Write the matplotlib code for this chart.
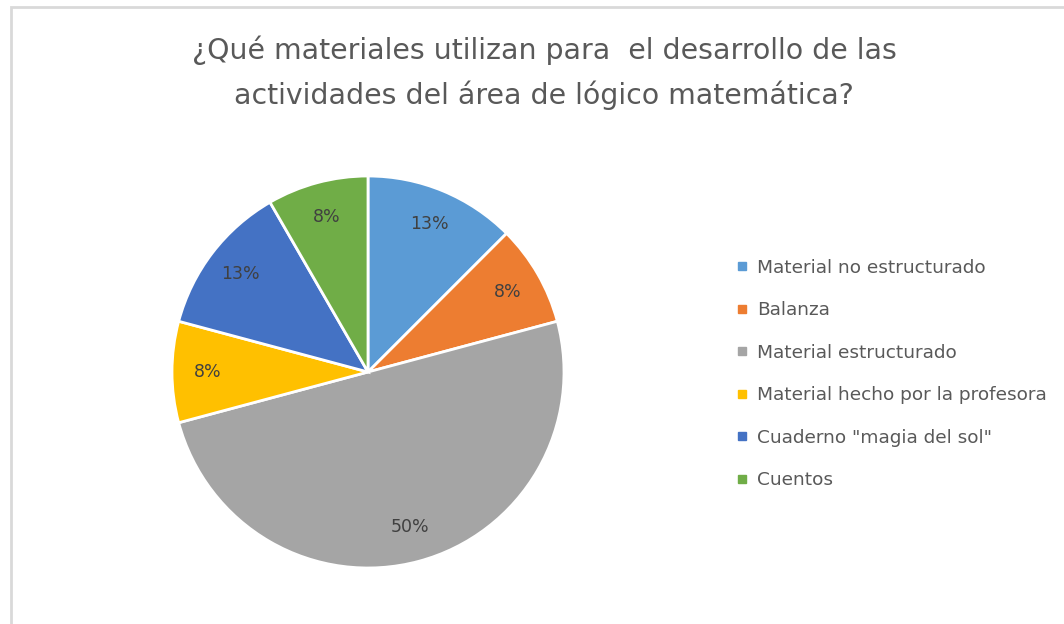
import matplotlib
matplotlib.use("Agg")
import matplotlib.pyplot as plt
from matplotlib.patches import Rectangle
from matplotlib.lines import Line2D

# data (counts out of 24 respondents)
categories = ["Material no estructurado", "Balanza", "Material estructurado",
              "Material hecho por la profesora", 'Cuaderno "magia del sol"', "Cuentos"]
counts = [3, 2, 12, 2, 3, 2]
colors = ["#5B9BD5", "#ED7D31", "#A5A5A5", "#FFC000", "#4472C4", "#70AD47"]
title = "¿Qué materiales utilizan para  el desarrollo de las\nactividades del área de lógico matemática?"

W, H = 1064, 624
fig = plt.figure(figsize=(W / 100, H / 100), dpi=100)
plt.rcParams['font.family'] = ['DejaVu Sans']

# chart frame
fig.patches.append(Rectangle((11 / W, -0.05), 1.1, (H - 7) / H + 0.05, transform=fig.transFigure,
                             fill=False, edgecolor="#d9d9d9", linewidth=2))

cx, cy, r = 368, 372, 196
ax = fig.add_axes([(cx - r) / W, (H - cy - r) / H, 2 * r / W, 2 * r / H])
wedges, texts, autotexts = ax.pie(counts, colors=colors, startangle=90, counterclock=False,
                                  autopct=lambda p: "%d%%" % round(p + 0.01),
                                  pctdistance=0.82, radius=1,
                                  wedgeprops=dict(edgecolor="white", linewidth=2),
                                  textprops=dict(color="#404040", fontsize=12.5))
ax.set_xlim(-1, 1)
ax.set_ylim(-1, 1)
ax.set_aspect("equal")
ax.axis("off")

fig.text(544 / W, 1 - 73 / H, title, ha="center", va="center", fontsize=20.4,
         color="#595959", linespacing=1.64)

handles = [Line2D([], [], marker="s", linestyle="none", markersize=6, color=c) for c in colors]
fig.legend(handles, categories, loc="upper left", bbox_to_anchor=(716 / W, 1 - 242 / H),
           frameon=False, fontsize=13.3, labelspacing=1.33, handletextpad=0.3,
           handlelength=1.0, labelcolor="#595959")

fig.savefig("out.png", dpi=100)
